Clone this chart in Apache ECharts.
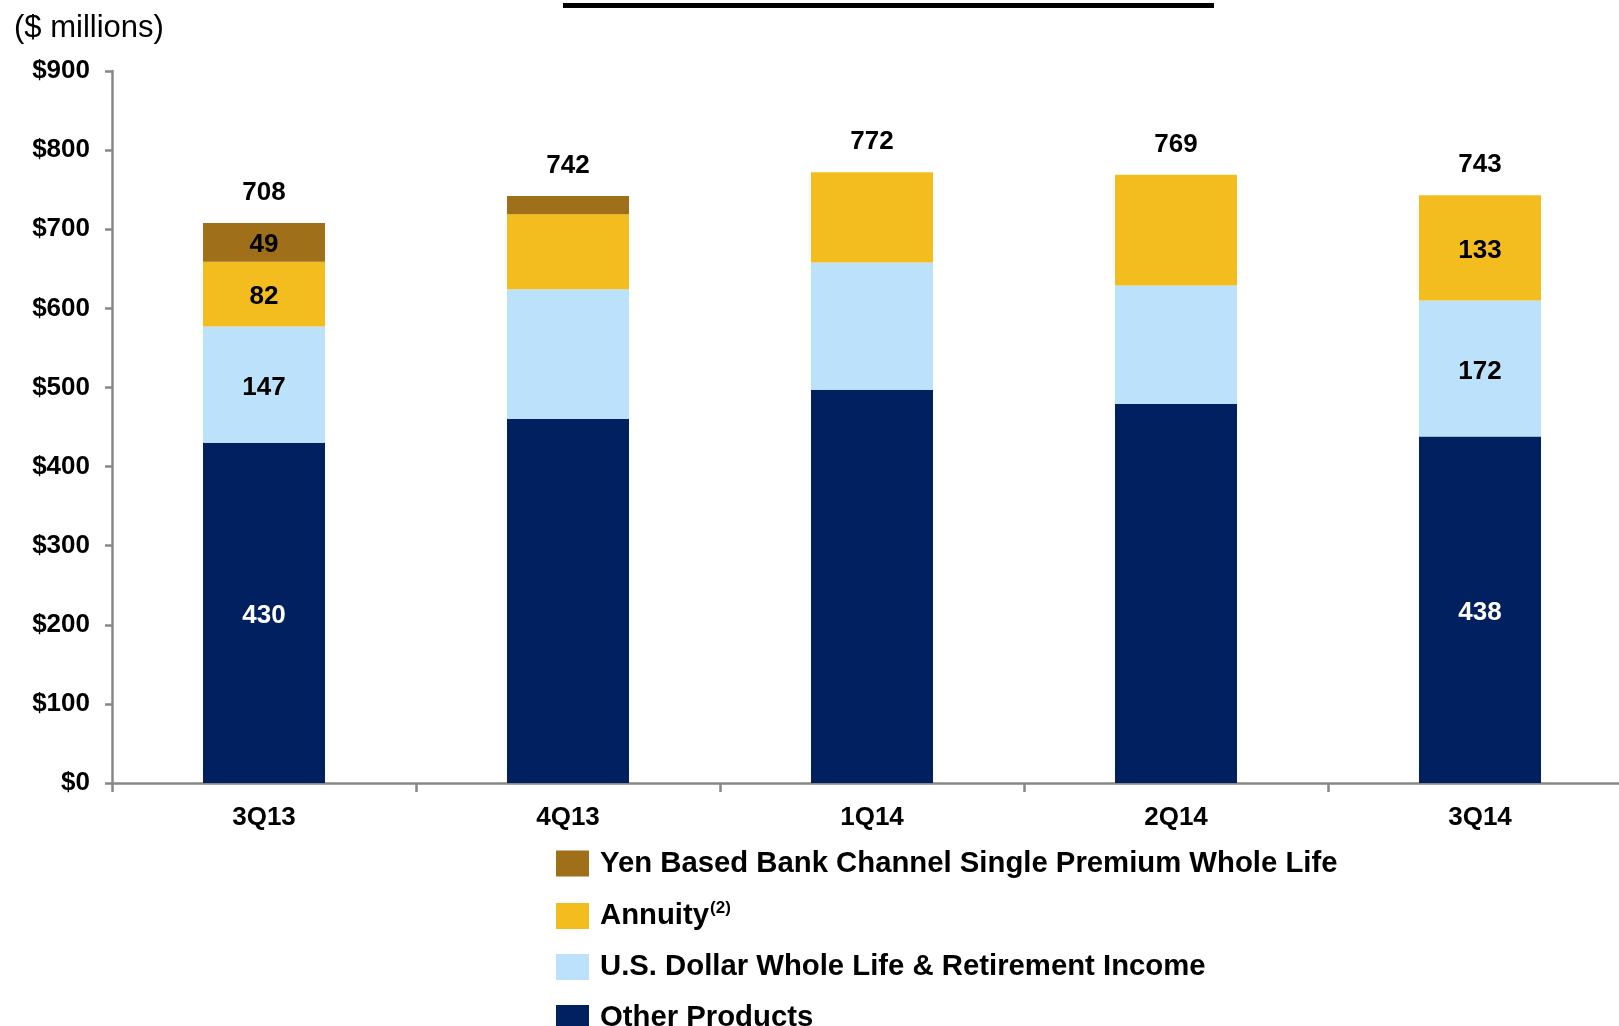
<!DOCTYPE html>
<html>
<head>
<meta charset="utf-8">
<script src="https://cdn.jsdelivr.net/npm/echarts@6/dist/echarts.min.js"></script>
<style>
html,body{margin:0;padding:0;background:#fff;}
#chart{width:1619px;height:1026px;}
</style>
</head>
<body>
<div id="chart"></div>
<script>
const categories = ['3Q13', '4Q13', '1Q14', '2Q14', '3Q14'];
const otherProducts = [430, 460, 497, 479, 438];
const usdWholeLife = [147, 164, 161, 150, 172];
const annuity = [82, 95, 114, 140, 133];
const yenBank = [49, 23, 0, 0, 0];
const totals = [708, 742, 772, 769, 743];
const labeledIdx = [0, 4];
const seriesNames = ['Other Products', 'U.S. Dollar Whole Life & Retirement Income', 'Annuity', 'Yen Based Bank Channel Single Premium Whole Life'];
const legendOrder = ['Yen Based Bank Channel Single Premium Whole Life', 'Annuity', 'U.S. Dollar Whole Life & Retirement Income', 'Other Products'];
const yTicks = { min: 0, max: 900, interval: 100 };

const FONT = '"Liberation Sans", Arial, sans-serif';
const colors = ['#00205f', '#bbe1fb', '#f3bc1f', '#a06f19'];
const labelColors = ['#ffffff', '#000000', '#000000', '#000000'];
const seriesData = [otherProducts, usdWholeLife, annuity, yenBank];

const chart = echarts.init(document.getElementById('chart'));

const barSeries = seriesData.map((vals, s) => ({
  name: seriesNames[s],
  type: 'bar',
  stack: 'total',
  barWidth: 122,
  itemStyle: { color: colors[s] },
  label: {
    position: 'inside',
    offset: [0, 3],
    color: labelColors[s],
    fontFamily: FONT,
    fontWeight: 'bold',
    fontSize: 26
  },
  data: vals.map((v, i) => ({ value: v, label: { show: labeledIdx.includes(i) && v > 0 } }))
}));

const option = {
  backgroundColor: '#ffffff',
  animation: false,
  textStyle: { fontFamily: FONT },
  title: {
    text: '($ millions)',
    left: 9,
    top: 8,
    textStyle: { fontFamily: FONT, fontSize: 31, fontWeight: 'normal', color: '#000' }
  },
  graphic: [{
    type: 'rect',
    shape: { x: 563, y: 3, width: 651, height: 5 },
    style: { fill: '#000' },
    silent: true
  }],
  legend: {
    data: legendOrder,
    orient: 'vertical',
    left: 551,
    top: 844,
    height: 260,
    itemWidth: 33,
    itemHeight: 26,
    itemGap: 22,
    icon: 'rect',
    selectedMode: false,
    formatter: function (name) {
      if (name === 'Annuity') return '{t|Annuity}{sup|(2)}';
      return '{t|' + name + '}';
    },
    textStyle: {
      fontFamily: FONT,
      fontSize: 29,
      fontWeight: 'bold',
      color: '#000',
      rich: {
        t: { fontFamily: FONT, fontSize: 29.3, fontWeight: 'bold', color: '#000', padding: [0, 0, 0, 6], lineHeight: 32 },
        sup: { fontFamily: FONT, fontSize: 17, fontWeight: 'bold', color: '#000', verticalAlign: 'top', lineHeight: 32, padding: [0, 0, 12, 1] }
      }
    }
  },
  grid: { left: 112, top: 71, width: 1520, height: 712, containLabel: false, outerBoundsMode: 'none' },
  xAxis: {
    type: 'category',
    data: categories,
    boundaryGap: true,
    axisLine: { show: true, lineStyle: { color: '#888', width: 2.5 } },
    axisTick: { show: true, length: 9, lineStyle: { color: '#888', width: 2.5 } },
    axisLabel: { color: '#000', fontFamily: FONT, fontWeight: 'bold', fontSize: 26, margin: 22 },
    splitLine: { show: false }
  },
  yAxis: {
    type: 'value',
    min: yTicks.min,
    max: yTicks.max,
    interval: yTicks.interval,
    axisLine: { show: true, lineStyle: { color: '#888', width: 2.5 } },
    axisTick: { show: true, length: 7, lineStyle: { color: '#888', width: 2.5 } },
    axisLabel: {
      color: '#000', fontFamily: FONT, fontWeight: 'bold', fontSize: 26, margin: 22,
      formatter: function (v) { return '$' + v; }
    },
    splitLine: { show: false }
  },
  series: barSeries.concat([{
    name: 'Total',
    type: 'bar',
    barWidth: 122,
    barGap: '-100%',
    silent: true,
    itemStyle: { color: 'rgba(255,255,255,0)' },
    label: {
      show: true,
      position: 'top',
      distance: 17,
      color: '#000',
      fontFamily: FONT,
      fontWeight: 'bold',
      fontSize: 26
    },
    z: 1,
    data: totals
  }])
};

chart.setOption(option);
</script>
</body>
</html>
